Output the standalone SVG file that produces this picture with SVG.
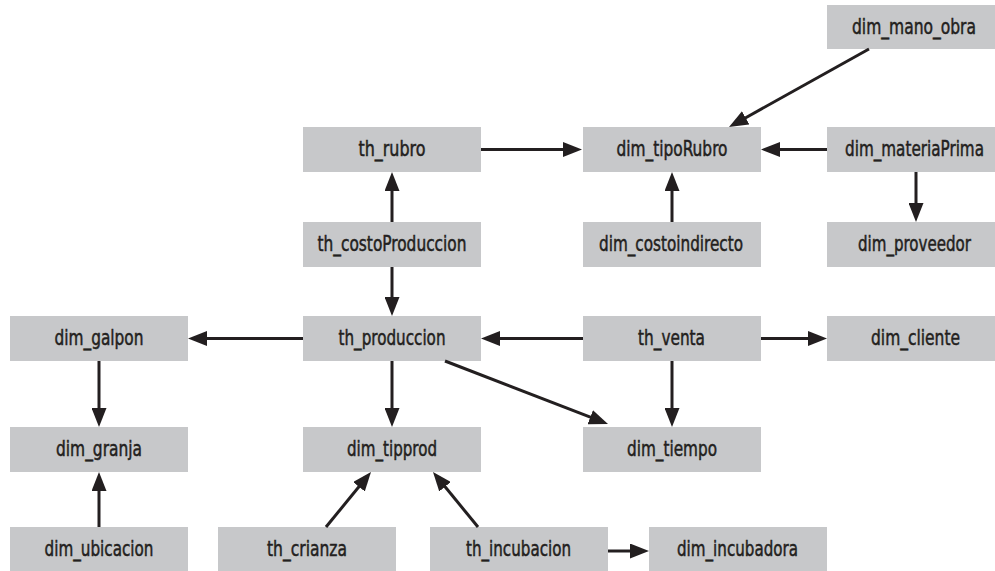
<svg xmlns="http://www.w3.org/2000/svg" width="995" height="571" viewBox="0 0 995 571">
<style>
.box{fill:#c7c8ca}
.lbl{font-family:"DejaVu Sans Condensed","Liberation Sans",sans-serif;font-size:22px;fill:#231f20;stroke:#231f20;stroke-width:0.5;text-anchor:middle}
.edge{stroke:#231f20;stroke-width:3;fill:none;marker-end:url(#ah)}
</style>
<defs>
<marker id="ah" markerUnits="userSpaceOnUse" markerWidth="19" markerHeight="15" refX="7" refY="7.5" orient="auto">
<path d="M0,0 L19,7.5 L0,15 z" fill="#231f20"/>
</marker>
</defs>
<rect width="995" height="571" fill="#ffffff"/>
<g id="dim_mano_obra"><rect class="box" x="827" y="5" width="168" height="44"/><text class="lbl" transform="translate(914,34) scale(0.75,1)" textLength="165.3" lengthAdjust="spacingAndGlyphs">dim_mano_obra</text></g>
<g id="th_rubro"><rect class="box" x="303" y="127" width="178" height="45"/><text class="lbl" transform="translate(392,156) scale(0.75,1)" textLength="89.3" lengthAdjust="spacingAndGlyphs">th_rubro</text></g>
<g id="dim_tipoRubro"><rect class="box" x="583" y="127" width="178" height="45"/><text class="lbl" transform="translate(672,156) scale(0.75,1)" textLength="148" lengthAdjust="spacingAndGlyphs">dim_tipoRubro</text></g>
<g id="dim_materiaPrima"><rect class="box" x="827" y="127" width="168" height="45"/><text class="lbl" transform="translate(914.5,156) scale(0.75,1)" textLength="185.3" lengthAdjust="spacingAndGlyphs">dim_materiaPrima</text></g>
<g id="th_costoProduccion"><rect class="box" x="303" y="222" width="178" height="45"/><text class="lbl" transform="translate(392,251) scale(0.75,1)" textLength="198.7" lengthAdjust="spacingAndGlyphs">th_costoProduccion</text></g>
<g id="dim_costoindirecto"><rect class="box" x="583" y="222" width="178" height="45"/><text class="lbl" transform="translate(671,251) scale(0.75,1)" textLength="192" lengthAdjust="spacingAndGlyphs">dim_costoindirecto</text></g>
<g id="dim_proveedor"><rect class="box" x="827" y="222" width="168" height="45"/><text class="lbl" transform="translate(914.5,251) scale(0.75,1)" textLength="150.7" lengthAdjust="spacingAndGlyphs">dim_proveedor</text></g>
<g id="dim_galpon"><rect class="box" x="10" y="316" width="178" height="45"/><text class="lbl" transform="translate(99,345) scale(0.75,1)" textLength="118.7" lengthAdjust="spacingAndGlyphs">dim_galpon</text></g>
<g id="th_produccion"><rect class="box" x="303" y="316" width="178" height="45"/><text class="lbl" transform="translate(392,345) scale(0.75,1)" textLength="142.7" lengthAdjust="spacingAndGlyphs">th_produccion</text></g>
<g id="th_venta"><rect class="box" x="583" y="316" width="178" height="45"/><text class="lbl" transform="translate(671.5,345) scale(0.75,1)" textLength="89.3" lengthAdjust="spacingAndGlyphs">th_venta</text></g>
<g id="dim_cliente"><rect class="box" x="827" y="316" width="168" height="45"/><text class="lbl" transform="translate(915.5,345) scale(0.75,1)" textLength="118.7" lengthAdjust="spacingAndGlyphs">dim_cliente</text></g>
<g id="dim_granja"><rect class="box" x="10" y="427" width="178" height="45"/><text class="lbl" transform="translate(99,456) scale(0.75,1)" textLength="114.7" lengthAdjust="spacingAndGlyphs">dim_granja</text></g>
<g id="dim_tipprod"><rect class="box" x="303" y="427" width="178" height="45"/><text class="lbl" transform="translate(392,456) scale(0.75,1)" textLength="120" lengthAdjust="spacingAndGlyphs">dim_tipprod</text></g>
<g id="dim_tiempo"><rect class="box" x="583" y="427" width="178" height="45"/><text class="lbl" transform="translate(672,456) scale(0.75,1)" textLength="120" lengthAdjust="spacingAndGlyphs">dim_tiempo</text></g>
<g id="dim_ubicacion"><rect class="box" x="10" y="527" width="178" height="44"/><text class="lbl" transform="translate(99,556) scale(0.75,1)" textLength="145.3" lengthAdjust="spacingAndGlyphs">dim_ubicacion</text></g>
<g id="th_crianza"><rect class="box" x="218" y="527" width="178" height="44"/><text class="lbl" transform="translate(307,556) scale(0.75,1)" textLength="106.7" lengthAdjust="spacingAndGlyphs">th_crianza</text></g>
<g id="th_incubacion"><rect class="box" x="430" y="527" width="178" height="44"/><text class="lbl" transform="translate(518.5,556) scale(0.75,1)" textLength="140" lengthAdjust="spacingAndGlyphs">th_incubacion</text></g>
<g id="dim_incubadora"><rect class="box" x="649" y="527" width="178" height="44"/><text class="lbl" transform="translate(737.5,556) scale(0.75,1)" textLength="161.3" lengthAdjust="spacingAndGlyphs">dim_incubadora</text></g>
<g id="connectors">
<line class="edge" x1="869" y1="49" x2="739.5" y2="121.2"/>
<line class="edge" x1="481" y1="149.5" x2="570" y2="149.5"/>
<line class="edge" x1="827" y1="149.5" x2="773" y2="149.5"/>
<line class="edge" x1="916" y1="172" x2="916" y2="210"/>
<line class="edge" x1="392" y1="222" x2="392" y2="184"/>
<line class="edge" x1="672" y1="222" x2="672" y2="184"/>
<line class="edge" x1="392" y1="267" x2="392" y2="304"/>
<line class="edge" x1="303" y1="338.5" x2="200" y2="338.5"/>
<line class="edge" x1="583" y1="338.5" x2="493" y2="338.5"/>
<line class="edge" x1="761" y1="338.5" x2="815" y2="338.5"/>
<line class="edge" x1="672" y1="361" x2="672" y2="415"/>
<line class="edge" x1="445" y1="361" x2="596.8" y2="419.7"/>
<line class="edge" x1="392" y1="361" x2="392" y2="415"/>
<line class="edge" x1="99" y1="361" x2="99" y2="415"/>
<line class="edge" x1="99" y1="527" x2="99" y2="484"/>
<line class="edge" x1="326" y1="527" x2="363.4" y2="481.3"/>
<line class="edge" x1="478" y1="527" x2="440.6" y2="481.3"/>
<line class="edge" x1="608" y1="551" x2="637" y2="551"/>
</g>
</svg>
